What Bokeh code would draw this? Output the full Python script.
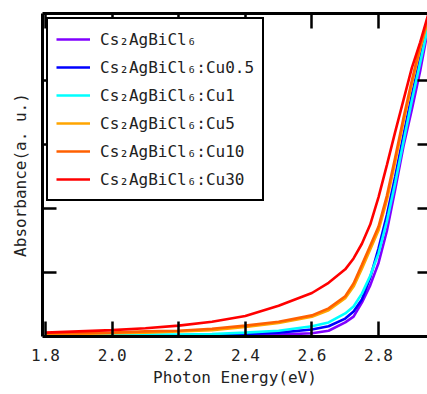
from bokeh.plotting import figure
from bokeh.models import (Legend, LegendItem, LinearAxis, FixedTicker, Range1d,
                          NumeralTickFormatter)
from bokeh.embed import file_html
from bokeh.resources import INLINE

energy = [1.8, 1.9, 2.0, 2.1, 2.2, 2.3, 2.4, 2.5, 2.6, 2.65, 2.7, 2.725, 2.75,
          2.775, 2.8, 2.825, 2.85, 2.875, 2.9, 2.925, 2.95]

pure = [0.01, 0.01, 0.01, 0.01, 0.01, 0.01, 0.02, 0.03, 0.05, 0.09, 0.22, 0.31, 0.53,
        0.80, 1.15, 1.65, 2.30, 2.98, 3.55, 4.15, 4.85]
cu05 = [0.01, 0.01, 0.01, 0.02, 0.02, 0.03, 0.04, 0.06, 0.11, 0.16, 0.28, 0.39, 0.58,
        0.92, 1.38, 1.90, 2.50, 3.15, 3.78, 4.35, 4.92]
cu1 = [0.02, 0.02, 0.02, 0.03, 0.03, 0.04, 0.06, 0.09, 0.16, 0.22, 0.36, 0.47, 0.67,
       0.95, 1.30, 1.80, 2.40, 3.05, 3.69, 4.28, 4.88]
cu5 = [0.04, 0.04, 0.05, 0.06, 0.08, 0.10, 0.15, 0.21, 0.31, 0.41, 0.60, 0.78, 1.06,
       1.36, 1.66, 2.13, 2.73, 3.36, 3.95, 4.50, 4.97]
cu10 = [0.05, 0.05, 0.06, 0.08, 0.09, 0.12, 0.17, 0.23, 0.33, 0.44, 0.63, 0.83, 1.12,
        1.42, 1.72, 2.20, 2.80, 3.42, 4.00, 4.55, 5.00]
cu30 = [0.06, 0.08, 0.10, 0.13, 0.17, 0.23, 0.32, 0.48, 0.68, 0.84, 1.05, 1.22, 1.45,
        1.75, 2.18, 2.68, 3.20, 3.70, 4.20, 4.60, 5.05]

labels = ["Cs₂AgBiCl₆", "Cs₂AgBiCl₆:Cu0.5", "Cs₂AgBiCl₆:Cu1",
          "Cs₂AgBiCl₆:Cu5", "Cs₂AgBiCl₆:Cu10", "Cs₂AgBiCl₆:Cu30"]
colors = ["#8000ff", "#0000ff", "#00ffff", "#ffa500", "#ff6000", "#ff0000"]
series = [pure, cu05, cu1, cu5, cu10, cu30]

x_ticks = [1.8, 2.0, 2.2, 2.4, 2.6, 2.8]
y_ticks = [1, 2, 3, 4]

FONT = "DejaVu Sans Mono"

p = figure(width=427, height=394, output_backend="svg", toolbar_location=None,
           x_range=Range1d(1.791, 2.947), y_range=Range1d(0, 5.05),
           min_border_left=42, min_border_right=0, min_border_top=13,
           min_border_bottom=58)
p.outline_line_color = None
p.xgrid.visible = False
p.ygrid.visible = False
p.background_fill_color = "white"

renderers = []
for ys, c in zip(series, colors):
    r = p.line(energy, ys, line_color=c, line_width=2.6)
    renderers.append(r)

def style_axis(ax, ticks, tick_len, show_labels=False):
    ax.ticker = FixedTicker(ticks=ticks)
    ax.axis_line_width = 3
    ax.axis_line_color = "black"
    ax.major_tick_in = tick_len
    ax.major_tick_out = 0
    ax.major_tick_line_width = 2.5
    ax.major_tick_line_color = "black"
    ax.minor_tick_line_color = None
    if not show_labels:
        ax.major_label_text_font_size = "1px"
        ax.major_label_text_color = None
        ax.major_label_standoff = 0

xa = p.xaxis[0]
style_axis(xa, x_ticks, 15, show_labels=True)
xa.formatter = NumeralTickFormatter(format="0.0")
xa.major_label_text_font = FONT
xa.major_label_text_font_size = "16px"
xa.major_label_text_color = "#222222"
xa.major_label_standoff = 12
xa.axis_label = "Photon Energy(eV)"
xa.axis_label_text_font = FONT
xa.axis_label_text_font_size = "16px"
xa.axis_label_text_font_style = "normal"
xa.axis_label_text_color = "#222222"
xa.axis_label_standoff = 4

ya = p.yaxis[0]
style_axis(ya, y_ticks, 14)
ya.axis_label = "Absorbance(a. u.)"
ya.axis_label_text_font = FONT
ya.axis_label_text_font_size = "16px"
ya.axis_label_text_font_style = "normal"
ya.axis_label_text_color = "#222222"
ya.axis_label_standoff = 13

top = LinearAxis()
style_axis(top, x_ticks, 15)
p.add_layout(top, "above")

right = LinearAxis()
style_axis(right, y_ticks, 10)
right.axis_line_color = None
p.add_layout(right, "right")

items = [LegendItem(label=l, renderers=[r]) for l, r in zip(labels, renderers)]
legend = Legend(items=items, location=(4, 135), margin=0, padding=8,
                spacing=4, label_height=24, glyph_height=24, glyph_width=34,
                label_standoff=10, label_text_font=FONT,
                label_text_font_size="16px", label_text_color="#222222",
                border_line_color="black", border_line_width=2.5,
                border_line_alpha=1.0,
                background_fill_color="white", background_fill_alpha=1.0)
p.add_layout(legend, "center")

open("out.html", "w").write(file_html(p, INLINE))
